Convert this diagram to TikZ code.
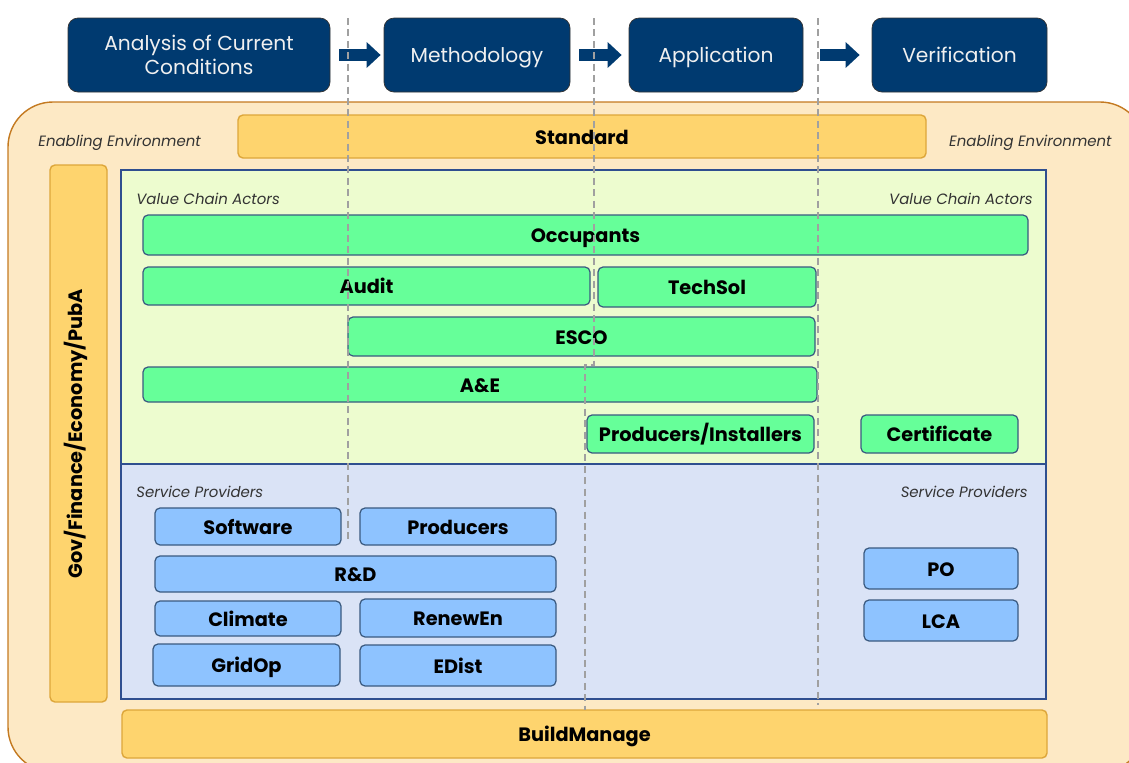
\documentclass[tikz,border=0pt]{standalone}
\usepackage{fontspec}
\setmainfont{Poppins}
\usetikzlibrary{arrows.meta}
\definecolor{stepblue}{RGB}{0,58,112}
\definecolor{envfill}{RGB}{253,233,197}
\definecolor{envline}{RGB}{196,122,33}
\definecolor{barfill}{RGB}{254,212,110}
\definecolor{barline}{RGB}{221,166,58}
\definecolor{vcafill}{RGB}{237,252,207}
\definecolor{spfill}{RGB}{218,227,246}
\definecolor{regline}{RGB}{47,79,143}
\definecolor{actfill}{RGB}{102,255,153}
\definecolor{provfill}{RGB}{142,195,255}
\definecolor{boxline}{RGB}{58,90,128}
\definecolor{guide}{RGB}{160,160,160}
\newcommand{\boxnode}[7]{\node[#2, minimum width={(#5-#3)*0.02cm}, minimum height={(#6-#4)*0.02cm}] (#1) at ({(#3+#5)/2},{(#4+#6)/2}) {#7};}
\newcommand{\guideline}{\draw[guide, line width=0.9pt, dash pattern=on 4pt off 2.5pt]}
\tikzset{
  oneline/.style={text height=9pt, text depth=0pt},
  stepbox/.style={draw=black!80, fill=stepblue, rounded corners=0.2cm, text=white!94!black, font=\fontsize{11.5}{13.5}\selectfont, align=center, inner sep=0pt},
  stepone/.style={stepbox, oneline},
  flowarrow/.style={stepblue, line width=0.24cm, -{Triangle[length=0.28cm,width=0.5cm]}},
  yellowbar/.style={draw=barline, fill=barfill, rounded corners=0.1cm, line width=0.8pt, font=\bfseries\fontsize{11}{13}\selectfont, inner sep=0pt, oneline},
  actor/.style={draw=boxline, fill=actfill, rounded corners=0.1cm, line width=0.7pt, font=\bfseries\fontsize{11}{13}\selectfont, inner sep=0pt, oneline},
  provider/.style={draw=boxline, fill=provfill, rounded corners=0.1cm, line width=0.7pt, font=\bfseries\fontsize{11}{13}\selectfont, inner sep=0pt, oneline},
  region/.style={draw=regline, line width=0.6pt, inner sep=0pt},
  tag/.style={font=\itshape\fontsize{8.5}{10}\selectfont, text=black!80, inner sep=0pt}
}
\begin{document}
\begin{tikzpicture}[x=0.02cm, y=-0.02cm]
\useasboundingbox (0,0) rectangle (1129,762);
\clip (0,0) rectangle (1129,762);
% enabling environment
\draw[envline, fill=envfill, line width=0.8pt, rounded corners=0.9cm] (8,102) rectangle (1145,772);
\boxnode{std}{yellowbar}{238}{115}{926}{158}{Standard}
\boxnode{gov}{yellowbar}{50}{165}{107}{702}{}
\node[rotate=90, font=\bfseries\fontsize{11}{13}\selectfont] (govtext) at ([xshift=-0.05cm]gov.center) {Gov/Finance/Economy/PubA};
\boxnode{vca}{region, fill=vcafill}{121}{170}{1046}{464}{}
\boxnode{sp}{region, fill=spfill}{121}{464}{1046}{699}{}
\boxnode{build}{yellowbar}{122}{710}{1047}{758}{BuildManage}
\node[tag, anchor=west] (envl) at (38,143) {Enabling Environment};
\node[tag, anchor=east] (envr) at (1112,143) {Enabling Environment};
\node[tag, anchor=west] (vcal) at (136,199) {Value Chain Actors};
\node[tag, anchor=east] (vcar) at (1033,199) {Value Chain Actors};
\node[tag, anchor=west] (spl) at (136,492) {Service Providers};
\node[tag, anchor=east] (spr) at (1028,492) {Service Providers};
% value chain actors
\boxnode{occ}{actor}{143}{215}{1028}{255}{Occupants}
\boxnode{audit}{actor}{143}{267}{590}{305}{Audit}
\boxnode{techsol}{actor}{598}{267}{816}{307}{TechSol}
\boxnode{esco}{actor}{348}{317}{815}{356}{ESCO}
\boxnode{ae}{actor}{143}{367}{817}{402}{A\&E}
\boxnode{prodinst}{actor}{587}{415}{814}{453}{Producers/Installers}
\boxnode{cert}{actor}{861}{415}{1018}{453}{Certificate}
% service providers
\boxnode{soft}{provider}{155}{508}{341}{545}{Software}
\boxnode{prod}{provider}{360}{508}{556}{545}{Producers}
\boxnode{rd}{provider}{155}{556}{556}{592}{R\&D}
\boxnode{clim}{provider}{155}{601}{341}{636}{Climate}
\boxnode{renew}{provider}{360}{599}{556}{637}{RenewEn}
\boxnode{grid}{provider}{153}{644}{340}{686}{GridOp}
\boxnode{edist}{provider}{360}{645}{556}{686}{EDist}
\boxnode{po}{provider}{864}{548}{1018}{589}{PO}
\boxnode{lca}{provider}{864}{600}{1018}{641}{LCA}
% steps
\boxnode{analysis}{stepbox}{68}{18}{330}{92}{Analysis of Current\\Conditions}
\boxnode{method}{stepone}{384}{18}{570}{92}{Methodology}
\boxnode{appl}{stepone}{629}{18}{803}{92}{Application}
\boxnode{verif}{stepone}{872}{18}{1047}{92}{Verification}
\draw[flowarrow, shorten <=0.18cm, shorten >=0.06cm] (analysis) -- (method);
\draw[flowarrow, shorten <=0.18cm, shorten >=0.14cm] (method) -- (appl);
\draw[flowarrow, shorten <=0.34cm, shorten >=0.24cm] (appl) -- (verif);
% phase guides
\guideline (348,18) -- (348,540);
\guideline (594,18) -- (594,365) -- (585,365) -- (585,710);
\guideline (818,18) -- (818,705);
\end{tikzpicture}
\end{document}
